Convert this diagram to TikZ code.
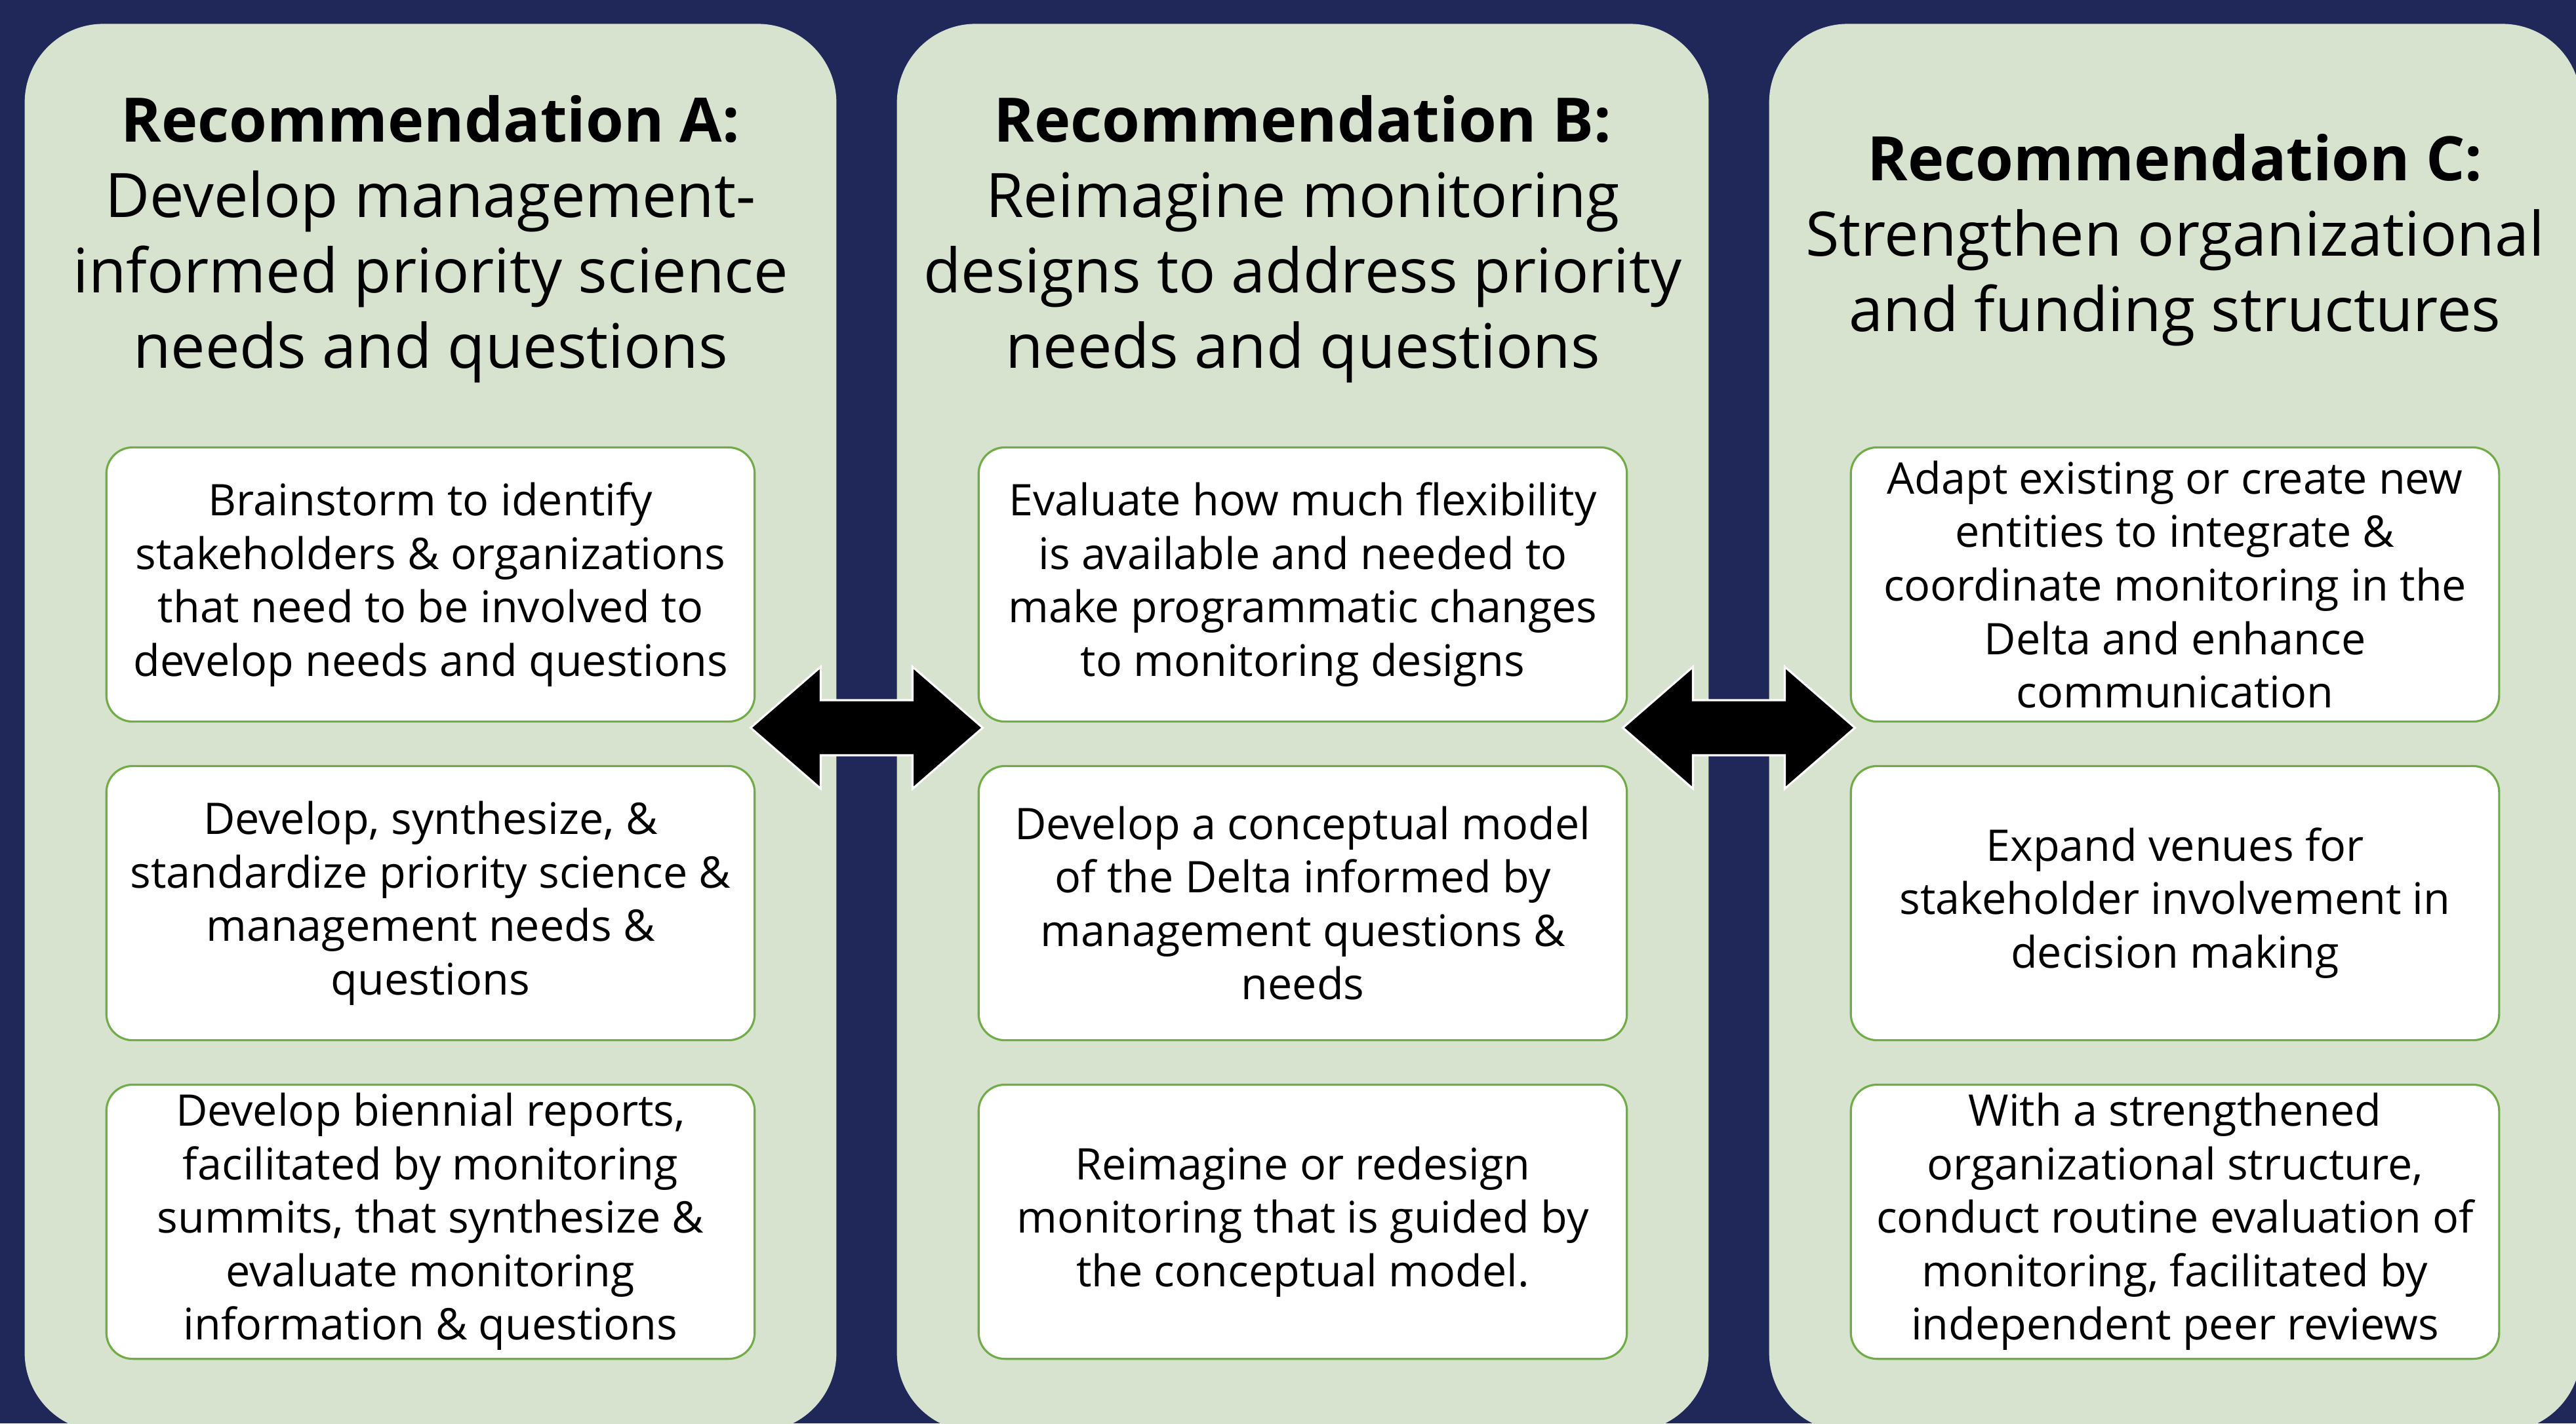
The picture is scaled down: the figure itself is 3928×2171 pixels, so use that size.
\documentclass[tikz,border=0pt]{standalone}
\usepackage{fontspec}
\setmainfont{Open Sans}
\usetikzlibrary{calc}
\definecolor{navy}{HTML}{1F2859}
\definecolor{sage}{HTML}{D7E3CF}
\definecolor{boxgreen}{HTML}{70AD47}
\tikzset{
  panel/.style={draw=none, fill=sage, rounded corners=1.2cm, minimum width=12.37cm, minimum height=21.46cm, inner sep=0pt},
  titletext/.style={align=center, font=\fontsize{26.6pt}{32.7pt}\selectfont, inner sep=0pt},
  itembox/.style={draw=boxgreen, line width=0.9pt, fill=white, rounded corners=0.4cm, minimum width=9.88cm, minimum height=4.18cm, align=center, font=\fontsize{18.9pt}{23.2pt}\selectfont, inner sep=0pt},
  dblarrow/.style={fill=black, draw=white, line width=0.9pt, line join=miter}
}
\begin{document}
\begin{tikzpicture}[x=0.01cm, y=-0.01cm]
\useasboundingbox (0,0) rectangle (3928,2171);
\clip (0,0) rectangle (3928,2171);
\fill[navy] (0,0) rectangle (3928,2171);
% panels
\node[panel] (pA) at (656.5,1110) {};
\node[panel] (pB) at (1986.5,1110) {};
\node[panel] (pC) at (3316.5,1110) {};
% titles
\node[titletext] (tA) at (656.5,365) {\textbf{Recommendation A:}\\Develop management-\\informed priority science\\needs and questions};
\node[titletext] (tB) at (1986.5,365) {\textbf{Recommendation B:}\\Reimagine monitoring\\designs to address priority\\needs and questions};
\node[titletext] (tC) at (3316.5,366) {\textbf{Recommendation C:}\\Strengthen organizational\\and funding structures};
% boxes A
\node[itembox] (a1) at (656.5,891.5) {\raisebox{0pt}[0pt][0pt]{}\vphantom{}Brainstorm to identify\\stakeholders \& organizations\\that need to be involved to\\develop needs and questions};
\node[itembox] (a2) at (656.5,1377.5) {Develop, synthesize, \&\\standardize priority science \&\\management needs \&\\questions};
\node[itembox] (a3) at (656.5,1863.5) {Develop biennial reports,\\facilitated by monitoring\\summits, that synthesize \&\\evaluate monitoring\\information \& questions};
% boxes B
\node[itembox] (b1) at (1986.5,891.5) {Evaluate how much flexibility\\is available and needed to\\make programmatic changes\\to monitoring designs};
\node[itembox] (b2) at (1986.5,1377.5) {Develop a conceptual model\\of the Delta informed by\\management questions \&\\needs};
\node[itembox] (b3) at (1986.5,1863.5) {Reimagine or redesign\\monitoring that is guided by\\the conceptual model.};
% boxes C
\node[itembox] (c1) at (3316.5,891.5) {Adapt existing or create new\\entities to integrate \&\\coordinate monitoring in the\\Delta and enhance\\communication};
\node[itembox] (c2) at (3316.5,1377.5) {Expand venues for\\stakeholder involvement in\\decision making};
\node[itembox] (c3) at (3316.5,1863.5) {With a strengthened\\organizational structure,\\conduct routine evaluation of\\monitoring, facilitated by\\independent peer reviews};
% double arrows between panels
\coordinate (mAB) at ($(pA.east)!0.5!(pB.west)$);
\coordinate (mBC) at ($(pB.east)!0.5!(pC.west)$);
\foreach \m in {mAB,mBC}{
  \draw[dblarrow] ($(\m)+(-177,0)$) -- ($(\m)+(-70,-93)$) -- ($(\m)+(-70,-42)$) -- ($(\m)+(70,-42)$) -- ($(\m)+(70,-93)$) -- ($(\m)+(177,0)$) -- ($(\m)+(70,93)$) -- ($(\m)+(70,42)$) -- ($(\m)+(-70,42)$) -- ($(\m)+(-70,93)$) -- cycle;
}
\end{tikzpicture}
\end{document}
